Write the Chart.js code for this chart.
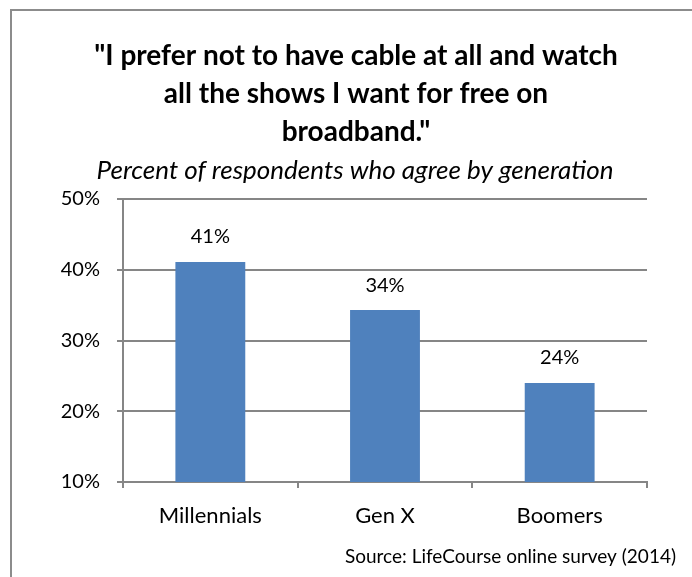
<!DOCTYPE html>
<html>
<head>
  <title>Cable vs broadband</title>
  <script src="https://cdn.jsdelivr.net/npm/chart.js"></script>
  <style>
    body { margin: 0; background: #fff; }
    #wrap { position: relative; width: 692px; height: 577px; overflow: hidden; }
    #frame { position: absolute; left: 10px; top: 9px; width: 720px; height: 620px;
             border-top: 2px solid #8c8c8c; border-left: 2px solid #8c8c8c; }
    canvas { position: absolute; left: 0; top: 0; }
  </style>
</head>
<body>
<div id="wrap">
  <div id="frame"></div>
  <canvas id="chartCanvas" width="692" height="577"></canvas>
</div>
<script>
  // chart data
  const categories = ['Millennials', 'Gen X', 'Boomers'];
  const agreeValues = [41.1, 34.3, 24.0];
  const valueLabels = ['41%', '34%', '24%'];
  const titleLines = ['"I prefer not to have cable at all and watch', 'all the shows I want for free on', 'broadband."'];
  const subtitleText = 'Percent of respondents who agree by generation';
  const sourceText = 'Source: LifeCourse online survey (2014)';

  const FONT = 'Lato, "Open Sans", sans-serif';

  // titles, data labels and source note
  const textPlugin = {
    id: 'textPlugin',
    afterDraw(chart) {
      const ctx = chart.ctx;
      ctx.save();
      ctx.fillStyle = '#000';
      ctx.textAlign = 'center';
      ctx.textBaseline = 'middle';
      ctx.font = 'bold 28px ' + FONT;
      titleLines.forEach((line, i) => ctx.fillText(line, 356, 56 + i * 38));
      ctx.font = 'italic 26px ' + FONT;
      ctx.fillText(subtitleText, 355, 171);

      ctx.font = '20px ' + FONT;
      const meta = chart.getDatasetMeta(0);
      meta.data.forEach((bar, i) => {
        ctx.fillText(valueLabels[i], bar.x, bar.y - 25);
      });

      ctx.textAlign = 'right';
      ctx.font = '19px ' + FONT;
      ctx.fillText(sourceText, 676, 557);
      ctx.restore();
    }
  };

  const ctx = document.getElementById('chartCanvas').getContext('2d');
  new Chart(ctx, {
    type: 'bar',
    data: {
      labels: categories,
      datasets: [{
        data: agreeValues,
        backgroundColor: '#4f81bd',
        barPercentage: 0.4,
        categoryPercentage: 1
      }]
    },
    options: {
      responsive: false,
      animation: false,
      layout: { padding: { top: 199, right: 45, bottom: 0, left: 0 } },
      plugins: {
        legend: { display: false },
        tooltip: { enabled: false }
      },
      scales: {
        x: {
          afterFit(scale) { scale.height = 95; },
          grid: { offset: true, drawOnChartArea: false, color: '#868686', tickLength: 6, lineWidth: 2 },
          border: { color: '#868686', width: 2 },
          ticks: { color: '#000', padding: 15, font: { family: FONT, size: 22 } }
        },
        y: {
          min: 10,
          max: 50,
          afterFit(scale) { scale.width = 123; },
          grid: { color: '#868686', tickLength: 6, lineWidth: 2 },
          border: { color: '#868686', width: 2 },
          ticks: {
            stepSize: 10,
            color: '#000',
            padding: 17,
            font: { family: FONT, size: 20 },
            callback: (v) => v + '%'
          }
        }
      }
    },
    plugins: [textPlugin]
  });
</script>
</body>
</html>
